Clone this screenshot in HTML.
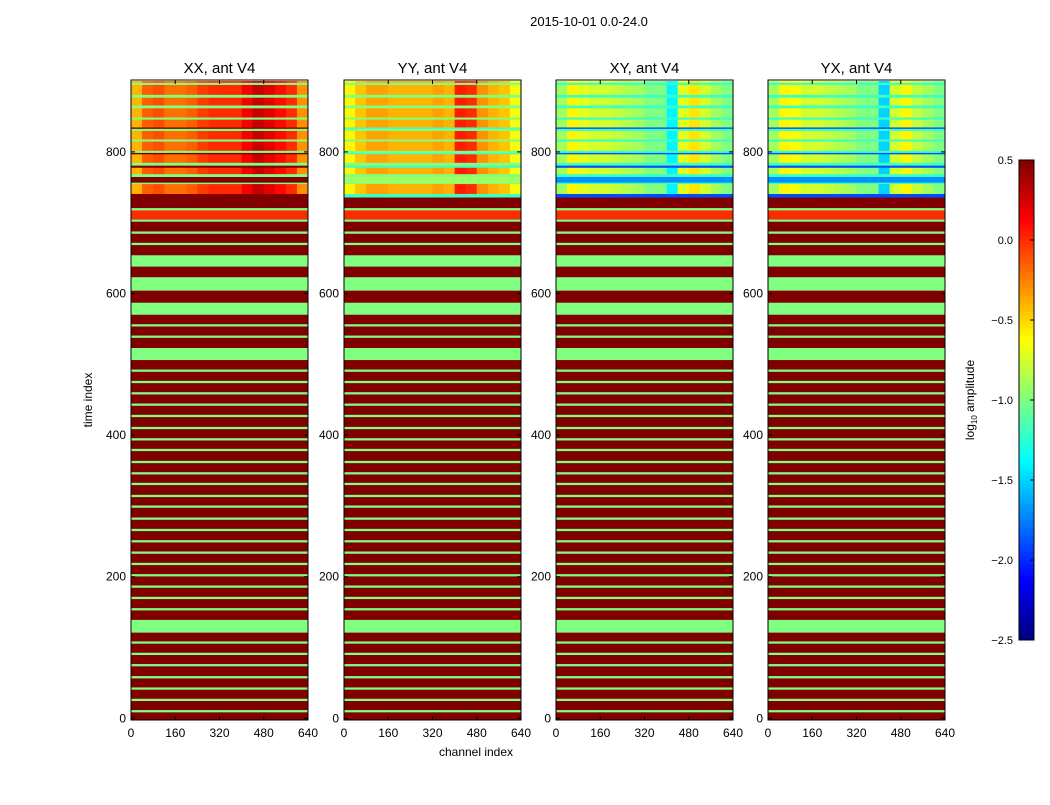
<!DOCTYPE html>
<html><head><meta charset="utf-8"><style>
body{margin:0;background:#fff;}
svg text{font-family:"Liberation Sans",sans-serif;}
</style></head><body>
<svg id="chart" width="1050" height="800" xmlns="http://www.w3.org/2000/svg"></svg>
<script>
// ---- data ----
const panelTitles = ["XX, ant V4","YY, ant V4","XY, ant V4","YX, ant V4"];
const xTicks = [0,160,320,480,640];
const yTicks = [0,200,400,600,800];
const cbTicks = [0.5,0.0,-0.5,-1.0,-1.5,-2.0,-2.5];
// lower-region green rows (time index ranges), value -1.0 on dark-red (0.5) background
const thinRows = [10,26,42,58,75,91,107,154,170,186,202,218,234,250,266,282,299,314,331,346,362,379,394,410,427,443,459,475,491,539,555,670,686,703,719];
const wideBands = [[121,139],[506,523],[570,587],[604,623],[638,654]];
const orangeBand = [705,718];
// channel profiles (log10 amplitude, 16 bins of 40 channels) for upper region
const profXX = [-0.4,-0.15,-0.1,-0.2,-0.2,-0.15,-0.05,0.0,0.0,0.0,0.15,0.3,0.2,0.1,0.0,-0.3];
const profYY = [-0.6,-0.45,-0.35,-0.35,-0.4,-0.4,-0.4,-0.4,-0.35,-0.4,0.05,0.0,-0.3,-0.4,-0.45,-0.65];
const profXY = [-0.9,-0.6,-0.7,-0.75,-0.75,-0.8,-0.85,-0.9,-1.0,-1.0,-1.4,-0.7,-0.55,-0.75,-0.9,-1.0];
const profYX = [-0.9,-0.6,-0.65,-0.75,-0.75,-0.8,-0.85,-0.9,-1.0,-1.0,-1.5,-0.75,-0.6,-0.8,-0.9,-1.0];
// upper-region rows: [start, end, kind]
const topRows = [[733,736,"D"],[736,741,"d"],[741,755,"p"],[755,757,"g"],[757,765,"x"],[765,769,"g"],[769,778,"p"],[778,781,"d"],[781,785,"g"],[785,797,"p"],[797,799,"d"],[799,802,"g"],[802,815,"p"],[815,818,"g"],[818,830,"p"],[830,833,"g"],[833,835,"d"],[835,846,"p"],[846,849,"g"],[849,862,"p"],[862,866,"g"],[866,877,"p"],[877,881,"g"],[881,895,"p"],[895,898,"g"],[898,900,"p"]];
// per-panel values for row kinds: d, x, g
const kindD = [0.5,-1.2,-1.9,-1.9];
const kindX = [0.5,-0.9,-1.7,-1.7];
const kindG = [-1.0,-1.0,-1.2,-1.2];

// ---- layout ----
const S = document.getElementById('chart');
const NS = "http://www.w3.org/2000/svg";
const panelX = [131,344,556,768];
const panelW = 177;
const top0 = 80, bot0 = 720;
function yS(v){return 718.3 - v*0.708;}
function xS(p,c){return panelX[p] + c/640*panelW;}
function jet(v){
  let t=(v+2.5)/3; t=Math.max(0,Math.min(1,t));
  const f=x=>Math.max(0,Math.min(1,x));
  const r=f(1.5-Math.abs(4*t-3)), g=f(1.5-Math.abs(4*t-2)), b=f(1.5-Math.abs(4*t-1));
  return `rgb(${Math.round(r*255)},${Math.round(g*255)},${Math.round(b*255)})`;
}
function mk(tag,attrs,parent){const e=document.createElementNS(NS,tag);for(const k in attrs)e.setAttribute(k,attrs[k]);(parent||S).appendChild(e);return e;}
function txt(x,y,s,size,anchor,parent){const t=mk('text',{x:x,y:y,'font-size':size,'text-anchor':anchor||'middle'},parent);t.textContent=s;return t;}

const profs=[profXX,profYY,profXY,profYX];
const title0=txt(589,26,"2015-10-01 0.0-24.0",13);



for(let p=0;p<4;p++){
  const g=mk('g',{});
  
  
  const clip=mk('clipPath',{id:'c'+p},g);
  mk('rect',{x:panelX[p],y:top0,width:panelW,height:bot0-top0},clip);
  const hm=mk('g',{'clip-path':'url(#c'+p+')'},g);
  
  
  const bg=mk('rect',{x:panelX[p],y:yS(733),width:panelW,height:bot0-yS(733),fill:jet(0.5)},hm);
  
  
  const addRow=(a,b,v,name)=>{const r=mk('rect',{x:panelX[p],y:yS(b),width:panelW,height:yS(a)-yS(b),fill:jet(v)},hm);
    
    };
  wideBands.forEach(w=>addRow(w[0],w[1],-1.0,'wide-band'));
  addRow(orangeBand[0],orangeBand[1],0.0,'orange-band');
  thinRows.forEach(c=>addRow(c-1.6,c+1.6,-1.0,'thin-row'));
  const prof=profs[p];
  topRows.forEach(r=>{
    for(let i=0;i<prof.length;i++){
      let v;
      if(r[2]==="p")v=prof[i];
      else if(r[2]==="D")v=0.5;
      else if(r[2]==="d")v=kindD[p];
      else if(r[2]==="x")v=kindX[p];
      else v=kindG[p];
      const c=mk('rect',{x:xS(p,i*40),y:yS(r[1]),width:panelW/prof.length+0.5,height:yS(r[0])-yS(r[1])+0.3,fill:jet(v)},hm);
      
      
    }
  });
  const fr=mk('rect',{x:panelX[p],y:top0,width:panelW,height:bot0-top0,fill:'none',stroke:'#000','stroke-width':1},g);
  
  
  const t=txt(panelX[p]+panelW/2,73,panelTitles[p],15,'middle',g);
  
  
  xTicks.forEach(v=>{const x=xS(p,v);
    mk('line',{x1:x,x2:x,y1:bot0,y2:bot0-4,stroke:'#000'},g);
    mk('line',{x1:x,x2:x,y1:top0,y2:top0+4,stroke:'#000'},g);
    const l=txt(x,737,String(v),12,'middle',g);
    
    });
  yTicks.forEach(v=>{const y=yS(v);
    mk('line',{x1:panelX[p],x2:panelX[p]+4,y1:y,y2:y,stroke:'#000'},g);
    mk('line',{x1:panelX[p]+panelW,x2:panelX[p]+panelW-4,y1:y,y2:y,stroke:'#000'},g);
    const l=txt(panelX[p]-5,y+4,String(v),12,'end',g);
    
    });
}
const xl=txt(476,756,"channel index",12);


const yl=txt(0,0,"time index",12);
yl.setAttribute('transform','translate(92,400) rotate(-90)');



// colorbar
const cb=mk('g',{});


const cbX=1019,cbW=15,cbT=160,cbB=640;
const cbY=v=>cbT+(0.5-v)/3*(cbB-cbT);
for(let i=0;i<120;i++){
  const v0=0.5-i*3/120;
  mk('rect',{x:cbX,y:cbY(v0),width:cbW,height:(cbB-cbT)/120+0.5,fill:jet(v0-0.0125)},cb);
}
mk('rect',{x:cbX,y:cbT,width:cbW,height:cbB-cbT,fill:'none',stroke:'#000'},cb);
cbTicks.forEach(v=>{const y=cbY(v);
  mk('line',{x1:cbX+cbW-4,x2:cbX+cbW,y1:y,y2:y,stroke:'#000'},cb);
  const l=txt(cbX-6,y+4,(v<0?"\u2212":"")+Math.abs(v).toFixed(1),11,'end',cb);
  
  });
const cl=mk('text',{'font-size':12,'text-anchor':'middle',transform:'translate(974,400) rotate(-90)'});
cl.innerHTML='log<tspan font-size="8" dy="3">10</tspan><tspan dy="-3"> amplitude</tspan>';


</script>
</body></html>
